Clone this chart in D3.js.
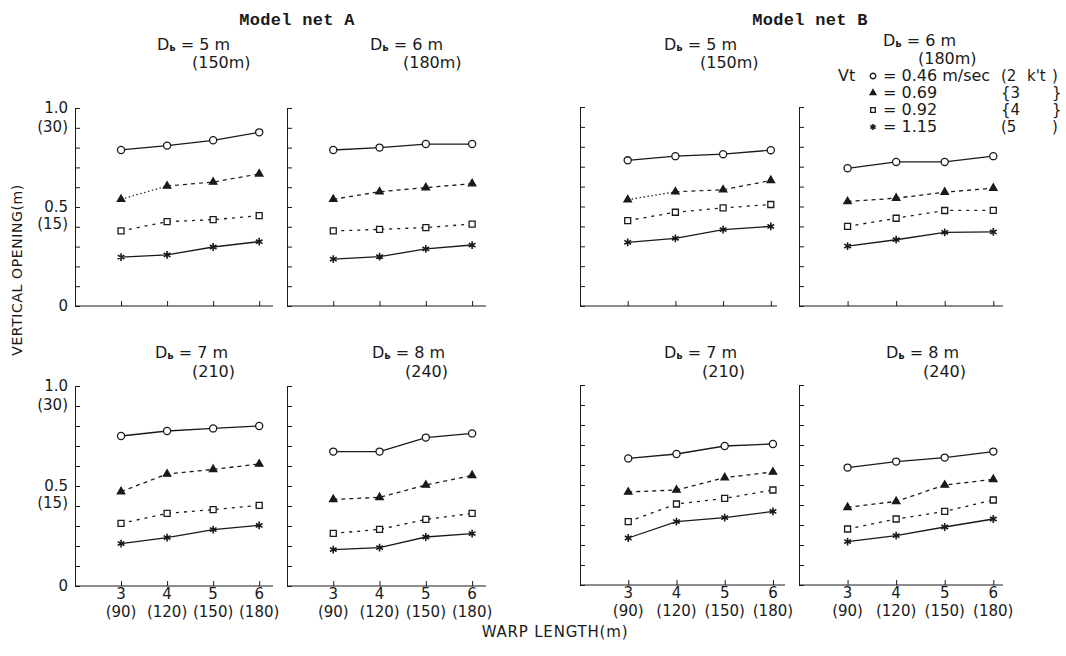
<!DOCTYPE html>
<html><head><meta charset="utf-8">
<script src="https://cdn.jsdelivr.net/npm/d3@7"></script>
<style>
body{margin:0;background:#fff}
svg{display:block}
text{font-family:"DejaVu Sans",sans-serif;fill:#1a1a1a}
</style>
</head><body>
<svg id="c" width="1066" height="656"></svg>
<script>
// ---------- data ----------
const warpLength = [3, 4, 5, 6];
const warpTickLabels = ["3", "4", "5", "6"];
const warpFullLabels = ["(90)", "(120)", "(150)", "(180)"];
const yTickValues = [0, 0.1, 0.2, 0.3, 0.4, 0.5, 0.6, 0.7, 0.8, 0.9, 1.0];
const speedLabels = ["0.46 m/sec", "0.69", "0.92", "1.15"];
const knotLabels = ["2", "3", "4", "5"];
const netNames = ["Model net A", "Model net B"];
const depthLabels = ["5 m", "6 m", "7 m", "8 m"];
const depthFull = ["(150m)", "(180m)", "(210)", "(240)"];

// each: [v=0.46 (circle), v=0.69 (triangle), v=0.92 (square), v=1.15 (star)]
const netA_D5 = [[0.788, 0.810, 0.837, 0.877], [0.539, 0.606, 0.626, 0.667], [0.379, 0.426, 0.436, 0.456], [0.247, 0.258, 0.298, 0.325]];
const netA_D6 = [[0.788, 0.800, 0.818, 0.818], [0.539, 0.577, 0.598, 0.618], [0.379, 0.387, 0.396, 0.414], [0.237, 0.249, 0.288, 0.308]];
const netB_D5 = [[0.732, 0.753, 0.763, 0.783], [0.534, 0.574, 0.584, 0.631], [0.429, 0.471, 0.493, 0.510], [0.320, 0.340, 0.384, 0.400]];
const netB_D6 = [[0.692, 0.724, 0.724, 0.753], [0.525, 0.542, 0.572, 0.592], [0.400, 0.441, 0.480, 0.481], [0.301, 0.333, 0.370, 0.372]];
const netA_D7 = [[0.750, 0.775, 0.788, 0.800], [0.472, 0.560, 0.583, 0.610], [0.313, 0.363, 0.382, 0.403], [0.212, 0.242, 0.282, 0.303]];
const netA_D8 = [[0.672, 0.672, 0.742, 0.763], [0.433, 0.443, 0.505, 0.553], [0.263, 0.283, 0.333, 0.363], [0.182, 0.192, 0.245, 0.262]];
const netB_D7 = [[0.633, 0.655, 0.695, 0.705], [0.465, 0.475, 0.537, 0.565], [0.317, 0.405, 0.433, 0.475], [0.235, 0.317, 0.337, 0.368]];
const netB_D8 = [[0.587, 0.617, 0.637, 0.667], [0.388, 0.418, 0.500, 0.528], [0.280, 0.330, 0.368, 0.425], [0.217, 0.247, 0.290, 0.330]];

// ---------- layout ----------
const svg = d3.select("#c");
const ink = "#1a1a1a";

const panels = [
  {data: netA_D5, depth: 0, x0: 75,  x1: 273,  dMax: 6.3,  yT: 108, yB: 306, tx: 157, ty: 50,  sx: 192, sy: 68,  yLab: true,  xLab: false, dotFirst: true},
  {data: netA_D6, depth: 1, x0: 287, x1: 486,  dMax: 6.3,  yT: 108, yB: 306, tx: 370, ty: 50,  sx: 403, sy: 68,  yLab: false, xLab: false, dotFirst: false},
  {data: netB_D5, depth: 0, x0: 580, x1: 777,  dMax: 6.13, yT: 107, yB: 306, tx: 664, ty: 50,  sx: 700, sy: 68,  yLab: false, xLab: false, dotFirst: true},
  {data: netB_D6, depth: 1, x0: 799, x1: 1003, dMax: 6.2,  yT: 107, yB: 306, tx: 883, ty: 46,  sx: 918, sy: 64,  yLab: false, xLab: false, dotFirst: false},
  {data: netA_D7, depth: 2, x0: 75,  x1: 273,  dMax: 6.3,  yT: 386, yB: 586, tx: 155, ty: 358, sx: 192, sy: 377, yLab: true,  xLab: true,  dotFirst: false},
  {data: netA_D8, depth: 3, x0: 287, x1: 486,  dMax: 6.3,  yT: 386, yB: 586, tx: 372, ty: 358, sx: 405, sy: 377, yLab: false, xLab: true,  dotFirst: false},
  {data: netB_D7, depth: 2, x0: 580, x1: 785,  dMax: 6.25, yT: 385, yB: 585, tx: 664, ty: 358, sx: 702, sy: 377, yLab: false, xLab: true,  dotFirst: false},
  {data: netB_D8, depth: 3, x0: 799, x1: 1003, dMax: 6.2,  yT: 385, yB: 585, tx: 886, ty: 358, sx: 923, sy: 377, yLab: false, xLab: true,  dotFirst: false}
];

const symTypes = [d3.symbolCircle, d3.symbolTriangle, d3.symbolSquare, d3.symbolAsterisk];
const symSizes = [40, 24, 36, 42];
const symFill = ["#fff", ink, "#fff", "none"];
const dashes = [null, "4,4", "3,5", null];

function drawSymbol(g, i, x, y, scale) {
  g.append("path")
    .attr("d", d3.symbol().type(symTypes[i]).size(symSizes[i] * (scale || 1))())
    .attr("transform", `translate(${x},${y})`)
    .attr("fill", symFill[i])
    .attr("stroke", ink)
    .attr("stroke-width", i === 3 ? 1.6 : 1.3);
}

// net titles
[[297, netNames[0]], [810, netNames[1]]].forEach(t => {
  svg.append("text").attr("x", t[0]).attr("y", 25).attr("text-anchor", "middle")
    .style("font-family", "'Liberation Mono', monospace").style("font-size", "17px").style("font-weight", "bold")
    .attr("letter-spacing", "0.3").text(t[1]);
});

panels.forEach(p => {
  const g = svg.append("g");
  const x = d3.scaleLinear().domain([2, p.dMax]).range([p.x0, p.x1]);
  const y = d3.scaleLinear().domain([0, 1]).range([p.yB, p.yT]);

  // y axis (ticks inward)
  const ya = g.append("g").attr("transform", `translate(${p.x0},0)`)
    .call(d3.axisRight(y).tickValues(yTickValues).tickSize(5).tickSizeOuter(0).tickFormat(""));
  ya.selectAll("path,line").attr("stroke", ink).attr("stroke-width", 1);
  // x axis (ticks upward)
  const xa = g.append("g").attr("transform", `translate(0,${p.yB})`)
    .call(d3.axisTop(x).tickValues(warpLength).tickSize(5).tickSizeOuter(0).tickFormat(""));
  xa.selectAll("path,line").attr("stroke", ink).attr("stroke-width", 1);
  xa.select(".domain").attr("d", `M${p.x0},0H${p.x1}`);

  // title
  const t = g.append("text").attr("x", p.tx).attr("y", p.ty).style("font-size", "16px");
  t.append("tspan").text("D");
  t.append("tspan").attr("dy", 1).style("font-size", "10px").style("font-weight", "bold").text("ь");
  t.append("tspan").attr("dy", -1).text(" = " + depthLabels[p.depth]);
  g.append("text").attr("x", p.sx).attr("y", p.sy).style("font-size", "16px").text(depthFull[p.depth]);

  // y labels
  if (p.yLab) {
    const lab = [[1.0, "1.0", 0], [1.0, "(30)", 19], [0.5, "0.5", 0], [0.5, "(15)", 17], [0, "0", 0]];
    lab.forEach(l => {
      g.append("text").attr("x", p.x0 - 7).attr("y", y(l[0]) + l[2] + 5)
        .attr("text-anchor", "end").style("font-size", "15px").text(l[1]);
    });
  }
  // x labels
  if (p.xLab) {
    warpLength.forEach((v, i) => {
      g.append("text").attr("x", x(v)).attr("y", p.yB + 13).attr("text-anchor", "middle")
        .style("font-size", "15px").text(warpTickLabels[i]);
      g.append("text").attr("x", x(v)).attr("y", p.yB + 31).attr("text-anchor", "middle")
        .style("font-size", "15px").text(warpFullLabels[i]);
    });
  }

  // lines
  p.data.forEach((vals, si) => {
    const pts = vals.map((v, i) => [x(warpLength[i]), y(v)]);
    if (si === 1 && p.dotFirst) {
      g.append("path").attr("d", d3.line()(pts.slice(0, 2))).attr("fill", "none")
        .attr("stroke", ink).attr("stroke-width", 1.2).attr("stroke-dasharray", "1.5,2.5");
      g.append("path").attr("d", d3.line()(pts.slice(1))).attr("fill", "none")
        .attr("stroke", ink).attr("stroke-width", 1.2).attr("stroke-dasharray", dashes[si]);
    } else {
      g.append("path").attr("d", d3.line()(pts)).attr("fill", "none")
        .attr("stroke", ink).attr("stroke-width", 1.3).attr("stroke-dasharray", dashes[si]);
    }
    pts.forEach(pt => drawSymbol(g, si, pt[0], pt[1]));
  });
});

// legend
const lg = svg.append("g");
lg.append("text").attr("x", 838).attr("y", 81).style("font-size", "16px").text("Vt");
const rowY = [81, 98, 115, 132];
speedLabels.forEach((s, i) => {
  drawSymbol(lg, i, 873, rowY[i] - 5, 0.6);
  lg.append("text").attr("x", 883).attr("y", rowY[i]).style("font-size", "16px").text("= " + s);
  lg.append("text").attr("x", 1001).attr("y", rowY[i]).style("font-size", "15px").text((i === 0 || i === 3 ? "(" : "{") + knotLabels[i]);
  lg.append("text").attr("x", 1052).attr("y", rowY[i]).style("font-size", "15px").text(i === 0 || i === 3 ? ")" : "}");
});
lg.append("text").attr("x", 1027).attr("y", rowY[0]).style("font-size", "15px").text("k't");

// axis titles
svg.append("text").attr("transform", "translate(22,270) rotate(-90)").attr("text-anchor", "middle")
  .style("font-size", "14px").attr("letter-spacing", "0.6").text("VERTICAL  OPENING(m)");
svg.append("text").attr("x", 555).attr("y", 637).attr("text-anchor", "middle")
  .style("font-size", "15px").attr("letter-spacing", "0.8").text("WARP  LENGTH(m)");
</script>
</body></html>
